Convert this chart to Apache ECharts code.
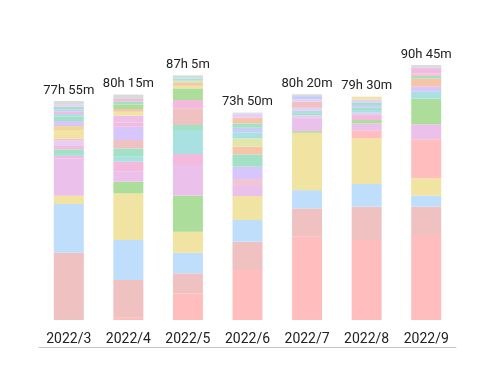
<!DOCTYPE html>
<html>
<head>
<meta charset="utf-8">
<script src="https://cdn.jsdelivr.net/npm/echarts@6/dist/echarts.min.js"></script>
<style>
  html, body { margin: 0; background: #fff; }
  #view { width: 500px; height: 375px; }
</style>
</head>
<body>
<div id="view"></div>
<script>
var months = ['2022/3', '2022/4', '2022/5', '2022/6', '2022/7', '2022/8', '2022/9'];
var totalLabels = ['77h 55m', '80h 15m', '87h 5m', '73h 50m', '80h 20m', '79h 30m', '90h 45m'];

// hours per segment, bottom to top, and the colour tag of each segment
var mar = [23.95, 17.33, 2.95, 13.24, 0.89, 0.71, 1.67, 1.17, 1.89, 0.71, 2.85, 1.67, 1.78, 1.53, 0.96, 0.82, 0.85, 0.93, 0.85, 1.17];
var marTags = 'D B Y L K T M K l k Y o V M T K W M l g';
var apr = [1.0, 13.24, 14.23, 16.62, 4.13, 3.56, 3.56, 1.78, 2.95, 2.99, 4.73, 1.53, 2.38, 1.42, 0.96, 1.64, 0.96, 0.96, 1.6];
var aprTags = 'P D B Y G L K T M D V K L Y O G M K g';
var may = [9.5, 7.12, 7.33, 7.47, 12.81, 10.93, 3.91, 8.54, 1.78, 5.94, 2.95, 4.16, 0.93, 0.96, 0.82, 0.85, 1.07];
var mayTags = 'P D B Y G L K T M D K G Y O A T g';
var jun = [17.79, 10.07, 7.72, 8.54, 3.56, 2.49, 4.38, 4.38, 2.74, 2.95, 2.14, 1.67, 1.53, 2.03, 1.53, 0.3];
var junTags = 'P D B Y L k V M O A T W M O l g';
var jul = [29.64, 10.07, 6.51, 20.39, 0.6, 4.63, 1.07, 0.71, 0.82, 1.07, 2.14, 0.85, 1.17, 0.66];
var julTags = 'P D B Y G L l M T l D l W g';
var aug = [28.47, 11.85, 8.08, 16.26, 2.7, 2.63, 1.17, 1.78, 0.82, 0.96, 0.82, 0.96, 0.96, 1.07, 0.96];
var augTags = 'P D B Y P L G K l T M W M l Y';
var sep = [30.25, 10.07, 3.91, 6.19, 13.88, 5.34, 9.11, 2.49, 1.78, 2.99, 0.82, 0.96, 1.17, 0.96, 0.82];
var sepTags = 'P D B Y P L G T V O M k K L g';

var palette = {
    P: '#ffbdbd', D: '#efc1c1', B: '#bfdefc', Y: '#f1e3a2', G: '#addd9b',
    L: '#ebc1eb', K: '#f3bade', T: '#a9e1e3', M: '#a2e1c4', V: '#d6c6fb',
    O: '#f5c4a9', A: '#e2e6aa', W: '#c6cef8', g: '#d6dcd6', l: '#e6cef5',
    o: '#f1d69b', k: '#f2c5d6'
};

var values = [mar, apr, may, jun, jul, aug, sep];
var tags = [marTags, aprTags, mayTags, junTags, julTags, augTags, sepTags].map(function (t) { return t.split(' '); });

var layers = Math.max.apply(null, values.map(function (v) { return v.length; }));
var series = [];
for (var i = 0; i < layers; i++) {
    series.push({
        type: 'bar',
        stack: 'total',
        barWidth: 30,
        silent: true,
        data: values.map(function (v, j) {
            return {
                value: v[i] || 0,
                itemStyle: { color: palette[tags[j][i]] || 'transparent' }
            };
        })
    });
}
// empty bar on top of each stack, only to carry the total label
series.push({
    type: 'bar',
    stack: 'total',
    barWidth: 30,
    itemStyle: { color: 'transparent' },
    label: {
        show: true,
        position: 'top',
        distance: 4,
        color: '#222',
        fontSize: 13,
        fontFamily: 'Roboto',
        formatter: function (p) { return totalLabels[p.dataIndex]; }
    },
    data: months.map(function () { return 0; })
});

var myChart = echarts.init(document.getElementById('view'));
var option = {
    animation: false,
    backgroundColor: '#fff',
    grid: { left: 39, right: 44, top: 39, bottom: 28 },
    xAxis: {
        type: 'category',
        data: months,
        axisLine: { onZero: false, lineStyle: { color: '#c4c4c4', width: 1 } },
        axisTick: { show: false },
        splitLine: { show: false },
        axisLabel: {
            inside: true,
            margin: 1,
            color: '#222',
            fontSize: 14,
            fontFamily: 'Roboto'
        }
    },
    yAxis: {
        type: 'value',
        show: false,
        min: -9.6,
        max: 100,
        splitLine: { show: false }
    },
    series: series
};
myChart.setOption(option);
</script>
</body>
</html>
